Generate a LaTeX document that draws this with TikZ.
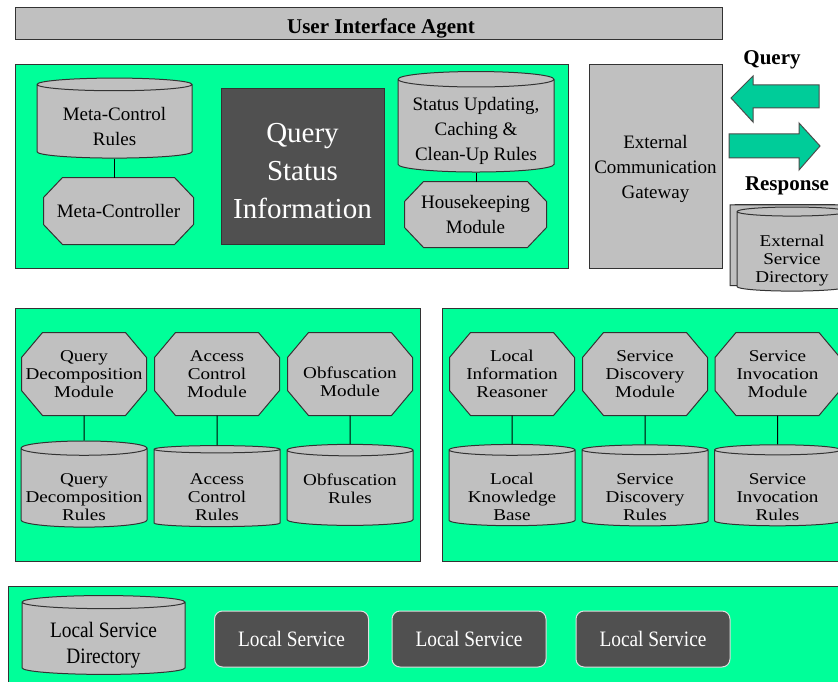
\documentclass[tikz,border=0pt]{standalone}
\usepackage{fontspec}
\setmainfont{Liberation Serif}
\newfontfamily\wideserif{Liberation Serif}[FakeStretch=1.16]
\newfontfamily\tallserif{Liberation Serif}[FakeStretch=0.88]
\usetikzlibrary{shapes.geometric}
\definecolor{panelgreen}{RGB}{0,255,153}
\definecolor{arrowgreen}{RGB}{0,204,153}
\definecolor{boxgray}{RGB}{192,192,192}
\definecolor{qsigray}{RGB}{80,80,80}
\newcommand\toptext{\fontsize{19}{25}\selectfont}
\newcommand\midtext{\wideserif\fontsize{16.5}{18}\selectfont}
\newcommand\lowtext{\tallserif\fontsize{22}{26}\selectfont}

% rectangle with cut corners
\makeatletter
\pgfkeys{/pgf/octo cut x/.initial=20pt,/pgf/octo cut y/.initial=20pt}
\def\oct@cx{\pgfkeysvalueof{/pgf/octo cut x}}
\def\oct@cy{\pgfkeysvalueof{/pgf/octo cut y}}
\pgfdeclareshape{octobox}{
  \inheritsavedanchors[from=rectangle]
  \inheritanchorborder[from=rectangle]
  \inheritanchor[from=rectangle]{center}
  \inheritanchor[from=rectangle]{north}
  \inheritanchor[from=rectangle]{north east}
  \inheritanchor[from=rectangle]{east}
  \inheritanchor[from=rectangle]{south east}
  \inheritanchor[from=rectangle]{south}
  \inheritanchor[from=rectangle]{south west}
  \inheritanchor[from=rectangle]{west}
  \inheritanchor[from=rectangle]{north west}
  \backgroundpath{
    \southwest \pgf@xa=\pgf@x \pgf@ya=\pgf@y
    \northeast \pgf@xb=\pgf@x \pgf@yb=\pgf@y
    \pgfpathmoveto{\pgfpointadd{\pgfpoint{\pgf@xa}{\pgf@ya}}{\pgfpoint{\oct@cx}{0pt}}}
    \pgfpathlineto{\pgfpointadd{\pgfpoint{\pgf@xb}{\pgf@ya}}{\pgfpoint{-\oct@cx}{0pt}}}
    \pgfpathlineto{\pgfpointadd{\pgfpoint{\pgf@xb}{\pgf@ya}}{\pgfpoint{0pt}{\oct@cy}}}
    \pgfpathlineto{\pgfpointadd{\pgfpoint{\pgf@xb}{\pgf@yb}}{\pgfpoint{0pt}{-\oct@cy}}}
    \pgfpathlineto{\pgfpointadd{\pgfpoint{\pgf@xb}{\pgf@yb}}{\pgfpoint{-\oct@cx}{0pt}}}
    \pgfpathlineto{\pgfpointadd{\pgfpoint{\pgf@xa}{\pgf@yb}}{\pgfpoint{\oct@cx}{0pt}}}
    \pgfpathlineto{\pgfpointadd{\pgfpoint{\pgf@xa}{\pgf@yb}}{\pgfpoint{0pt}{-\oct@cy}}}
    \pgfpathlineto{\pgfpointadd{\pgfpoint{\pgf@xa}{\pgf@ya}}{\pgfpoint{0pt}{\oct@cy}}}
    \pgfpathclose
  }
}
\makeatother

\begin{document}
\begin{tikzpicture}[x=1pt,y=-1pt,line width=1pt,
  panel/.style={draw=black!80,fill=panelgreen},
  graybox/.style={draw=black!80,fill=boxgray,inner sep=1pt,align=center},
  module/.style={graybox,shape=octobox,octo cut x=21pt,octo cut y=25pt,
    minimum width=124pt,minimum height=82pt,font=\midtext},
  rulebase/.style={graybox,cylinder,shape border rotate=90,aspect=0.12,
    minimum width=126pt,minimum height=81pt,font=\midtext},
  darkbox/.style={draw=black!80,fill=qsigray,text=white,align=center},
  service/.style={draw=white!75!gray,fill=qsigray,text=white,rounded corners=8pt,
    minimum width=154pt,minimum height=56pt,font=\lowtext},
  label/.style={font=\bfseries\fontsize{21}{24}\selectfont}]
\clip (0,0) rectangle (838,682);
\fill[white] (0,0) rectangle (838,682);

% agent bar
\node[graybox,minimum width=707pt,minimum height=32pt] (uia) at (368.5,24) {};
\node[label] (uialabel) at (381,28) {User Interface Agent};

% top block
\draw[panel] (15,65) rectangle (568,268);
\node[rulebase,minimum width=155pt,minimum height=80pt,font=\toptext,text height=48pt]
  (mcr) at (114.5,122) {Meta-Control\\Rules};
\node[module,minimum width=149pt,minimum height=66pt,octo cut x=19pt,octo cut y=20pt,
  font=\toptext] (mc) at (118.5,211) {Meta-Controller};
\draw (mcr.south) -- (mcr.south |- mc.north);
\node[darkbox,minimum width=163pt,minimum height=155pt,
  font=\fontsize{29}{38}\selectfont,text height=104pt] (qsi) at (302.5,166.5) {Query\\Status\\Information};
\node[rulebase,minimum width=156pt,minimum height=89pt,font=\toptext,text height=72pt]
  (sur) at (476,126.5) {Status Updating,\\Caching \&\\Clean-Up Rules};
\node[module,minimum width=141pt,minimum height=65pt,octo cut x=19pt,octo cut y=20pt,
  font=\toptext] (hk) at (475.5,214.5) {Housekeeping\\Module};
\draw (sur.south) -- (sur.south |- hk.north);

% gateway and outside
\node[graybox,minimum width=133pt,minimum height=203pt,font=\toptext,text height=69pt]
  (ecg) at (655.5,166.5) {External\\Communication\\Gateway};
\node[label] (query) at (772,60) {Query};
\node[label] (response) at (787,186) {Response};
\filldraw[fill=arrowgreen,draw=black!70] (731,98) -- (753,76) -- (753,85) -- (819,85)
  -- (819,108) -- (753,108) -- (753,122) -- cycle;
\filldraw[fill=arrowgreen,draw=black!70] (729,134) -- (799,134) -- (799,123) -- (820,146)
  -- (799,170) -- (799,158) -- (729,158) -- cycle;
\node[rulebase,minimum width=110pt,minimum height=81pt] (esdback) at (785,245.5) {};
\node[rulebase,minimum width=110pt,minimum height=84pt,text height=65.3pt] (esd) at (792,252)
  {External\\Service\\Directory};

% middle blocks
\draw[panel] (15,308) rectangle (420,561);
\draw[panel] (442,308) rectangle (850,561);
\foreach \n/\x/\modtext/\ruletext in {
  qd/84/{Query\\Decomposition\\Module}/{Query\\Decomposition\\Rules},
  ac/217/{Access\\Control\\Module}/{Access\\Control\\Rules},
  lir/512/{Local\\Information\\Reasoner}/{Local\\Knowledge\\Base},
  sd/645/{Service\\Discovery\\Module}/{Service\\Discovery\\Rules},
  si/777.5/{Service\\Invocation\\Module}/{Service\\Invocation\\Rules}}
{
  \node[module] (\n mod) at (\x,374) {\modtext};
  \node[rulebase,text height=63.3pt] (\n rule) at (\x,488.5) {\ruletext};
  \draw (\n mod.south) -- (\n rule.north);
}
\node[module,text height=45.3pt] (obmod) at (350,374) {Obfuscation\\Module};
\node[rulebase] (obrule) at (350,488.5) {Obfuscation\\Rules};
\draw (obmod.south) -- (obrule.north);

% local services
\draw[panel] (8,586) rectangle (850,690);
\node[rulebase,minimum width=163pt,minimum height=74pt,font=\lowtext,text height=53pt]
  (lsd) at (103.5,639) {Local Service\\Directory};
\node[service] (ls1) at (291.5,639) {Local Service};
\node[service] (ls2) at (469,639) {Local Service};
\node[service] (ls3) at (653,639) {Local Service};
\end{tikzpicture}
\end{document}
